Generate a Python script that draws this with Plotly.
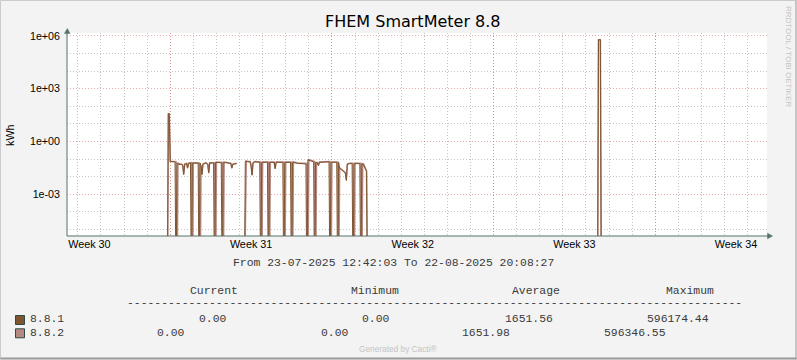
import plotly.graph_objects as go

# ---------------- data ----------------
title_text = "FHEM SmartMeter 8.8"
y_title = "kWh"
series_names = ["8.8.1", "8.8.2"]
series_colors = ["#7F5430", "#B48A82"]

x_start = "2025-07-23 12:42:03"
x_end = "2025-08-22 20:08:27"

week_label_times = ["2025-07-24 12:00", "2025-07-31 12:00", "2025-08-07 12:00",
                    "2025-08-14 12:00", "2025-08-21 12:00"]
week_labels = ["Week 30", "Week 31", "Week 32", "Week 33", "Week 34"]
week_start_times = ["2025-07-21", "2025-07-28", "2025-08-04", "2025-08-11", "2025-08-18"]

y_tick_vals = [1e-3, 1, 1e3, 1e6]
y_tick_labels = ["1e-03", "1e+00", "1e+03", "1e+06"]
y_minor_vals = [1e-5, 1e-4, 1e-2, 1e-1, 1e1, 1e2, 1e4, 1e5]

# series 8.8.1 (kWh), None = unknown
t_881 = ["2025-07-27 21:00", "2025-07-27 22:00", "2025-07-27 23:00", "2025-07-28 00:00",
         "2025-07-28 05:00", "2025-07-28 06:00", "2025-07-28 07:00", "2025-07-28 09:00",
         "2025-07-28 12:00", "2025-07-28 13:00", "2025-07-28 14:00", "2025-07-28 15:00",
         "2025-07-28 17:00", "2025-07-28 18:00", "2025-07-28 19:00", "2025-07-28 21:00",
         "2025-07-28 22:00", "2025-07-28 23:00", "2025-07-29 05:00", "2025-07-29 06:00",
         "2025-07-29 07:00", "2025-07-29 08:00", "2025-07-29 09:00", "2025-07-29 10:00",
         "2025-07-29 13:00", "2025-07-29 15:00", "2025-07-29 16:00", "2025-07-29 17:00",
         "2025-07-29 21:00", "2025-07-29 22:00", "2025-07-29 23:00", "2025-07-30 05:00",
         "2025-07-30 06:00", "2025-07-30 07:00", "2025-07-30 12:00", "2025-07-30 15:00",
         "2025-07-30 16:00", "2025-07-30 17:00", "2025-07-30 21:00", "2025-07-30 22:00",
         "2025-07-31 05:00", "2025-07-31 06:00", "2025-07-31 09:00", "2025-07-31 11:00",
         "2025-07-31 12:00", "2025-07-31 13:00", "2025-07-31 14:00", "2025-07-31 16:00",
         "2025-07-31 21:00", "2025-07-31 22:00", "2025-07-31 23:00", "2025-08-01 05:00",
         "2025-08-01 06:00", "2025-08-01 07:00", "2025-08-01 12:00", "2025-08-01 13:00",
         "2025-08-01 14:00", "2025-08-01 21:00", "2025-08-01 22:00", "2025-08-01 23:00",
         "2025-08-02 05:00", "2025-08-02 06:00", "2025-08-02 07:00", "2025-08-02 12:00",
         "2025-08-02 21:00", "2025-08-02 22:00", "2025-08-02 23:00", "2025-08-03 02:00",
         "2025-08-03 05:00", "2025-08-03 06:00", "2025-08-03 07:00", "2025-08-03 09:00",
         "2025-08-03 10:00", "2025-08-03 11:00", "2025-08-03 15:00", "2025-08-03 21:00",
         "2025-08-03 22:00", "2025-08-03 23:00", "2025-08-04 05:00", "2025-08-04 06:00",
         "2025-08-04 07:00", "2025-08-04 08:00", "2025-08-04 10:00", "2025-08-04 12:00",
         "2025-08-04 14:00", "2025-08-04 15:00", "2025-08-04 16:00", "2025-08-04 18:00",
         "2025-08-04 21:00", "2025-08-04 22:00", "2025-08-04 23:00", "2025-08-05 05:00",
         "2025-08-05 06:00", "2025-08-05 07:00", "2025-08-05 09:00", "2025-08-05 10:00",
         "2025-08-05 11:00", "2025-08-05 12:00", "2025-08-05 13:00", "2025-08-15 12:00",
         "2025-08-15 13:00", "2025-08-15 15:00", "2025-08-15 16:00", "2025-08-22 20:00"]
v_881 = [0, 39, 39, 0.072,
         0.07, 0, 0.06, 0.05,
         0.05, 0.04, 0.013, 0.05,
         0.055, 0.03, 0.055, 0.06,
         0, 0.06, 0.058, 0,
         0.06, 0.04, 0.013, 0.05,
         0.06, 0.05, 0.016, 0.06,
         0.06, 0, 0.065, 0.062,
         0, 0.065, 0.06, 0.055,
         0.03, 0.05, 0.055, None,
         0, 0.075, 0.07, 0.07,
         0.04, 0.012, 0.06, 0.07,
         0.065, 0, 0.065, 0.066,
         0, 0.065, 0.065, 0.028,
         0.065, 0.065, 0, 0.065,
         0.065, 0, 0.065, 0.058,
         0.053, 0, 0.09, 0.08,
         0.07, 0, 0.065, 0.06,
         0.042, 0.065, 0.068, 0.07,
         0, 0.066, 0.066, 0,
         0.065, 0.03, 0.025, 0.02,
         0.016, 0.006, 0.05, 0.055,
         0.055, 0, 0.055, 0.055,
         0, 0.055, 0.05, 0.035,
         0.025, 0.02, 0, 0,
         596174.44, 596174.44, 0, 0]

# series 8.8.2 (kWh)
t_882 = ["2025-07-27 21:00", "2025-07-27 22:00", "2025-07-27 23:00", "2025-07-28 00:00",
         "2025-07-28 06:00", "2025-07-28 07:00", "2025-07-28 08:00", "2025-07-28 09:00",
         "2025-07-28 12:00", "2025-07-28 13:00", "2025-07-28 14:00", "2025-07-28 15:00",
         "2025-07-28 17:00", "2025-07-28 18:00", "2025-07-28 19:00", "2025-07-28 22:00",
         "2025-07-28 23:00", "2025-07-29 00:00", "2025-07-29 06:00", "2025-07-29 07:00",
         "2025-07-29 08:00", "2025-07-29 09:00", "2025-07-29 10:00", "2025-07-29 13:00",
         "2025-07-29 15:00", "2025-07-29 16:00", "2025-07-29 17:00", "2025-07-29 22:00",
         "2025-07-29 23:00", "2025-07-30 00:00", "2025-07-30 06:00", "2025-07-30 07:00",
         "2025-07-30 08:00", "2025-07-30 12:00", "2025-07-30 15:00", "2025-07-30 16:00",
         "2025-07-30 17:00", "2025-07-30 21:00", "2025-07-30 22:00", "2025-07-31 05:00",
         "2025-07-31 06:00", "2025-07-31 07:00", "2025-07-31 09:00", "2025-07-31 11:00",
         "2025-07-31 12:00", "2025-07-31 13:00", "2025-07-31 14:00", "2025-07-31 16:00",
         "2025-07-31 22:00", "2025-07-31 23:00", "2025-08-01 00:00", "2025-08-01 06:00",
         "2025-08-01 07:00", "2025-08-01 08:00", "2025-08-01 12:00", "2025-08-01 13:00",
         "2025-08-01 14:00", "2025-08-01 22:00", "2025-08-01 23:00", "2025-08-02 00:00",
         "2025-08-02 06:00", "2025-08-02 07:00", "2025-08-02 08:00", "2025-08-02 12:00",
         "2025-08-02 22:00", "2025-08-02 23:00", "2025-08-03 00:00", "2025-08-03 02:00",
         "2025-08-03 06:00", "2025-08-03 07:00", "2025-08-03 08:00", "2025-08-03 09:00",
         "2025-08-03 10:00", "2025-08-03 11:00", "2025-08-03 15:00", "2025-08-03 22:00",
         "2025-08-03 23:00", "2025-08-04 00:00", "2025-08-04 06:00", "2025-08-04 07:00",
         "2025-08-04 08:00", "2025-08-04 10:00", "2025-08-04 12:00", "2025-08-04 14:00",
         "2025-08-04 15:00", "2025-08-04 16:00", "2025-08-04 18:00", "2025-08-04 22:00",
         "2025-08-04 23:00", "2025-08-05 00:00", "2025-08-05 06:00", "2025-08-05 07:00",
         "2025-08-05 08:00", "2025-08-05 09:00", "2025-08-05 10:00", "2025-08-05 11:00",
         "2025-08-05 12:00", "2025-08-05 13:00", "2025-08-15 12:00", "2025-08-15 13:00",
         "2025-08-15 15:00", "2025-08-15 16:00", "2025-08-22 20:00"]
v_882 = [0, 35, 35, 0.075,
         0.072, 0, 0.062, 0.055,
         0.052, 0.045, 0.015, 0.052,
         0.058, 0.033, 0.058, 0.062,
         0, 0.062, 0.06, 0,
         0.045, 0.015, 0.052, 0.062,
         0.052, 0.018, 0.062, 0.062,
         0, 0.068, 0.064, 0,
         0.068, 0.062, 0.058, 0.033,
         0.052, 0.058, None, 0,
         0.0001, 0.078, 0.072, 0.072,
         0.045, 0.013, 0.062, 0.072,
         0.068, 0, 0.068, 0.068,
         0, 0.068, 0.068, 0.03,
         0.068, 0.068, 0, 0.068,
         0.068, 0, 0.07, 0.06,
         0.056, 0, 0.095, 0.085,
         0.072, 0, 0.068, 0.062,
         0.045, 0.068, 0.07, 0.072,
         0, 0.068, 0.068, 0,
         0.032, 0.026, 0.021, 0.017,
         0.007, 0.052, 0.058, 0.058,
         0, 0.058, 0.058, 0,
         0.058, 0.052, 0.037, 0.027,
         0.021, 0, 0, 596346.55,
         596346.55, 0, 0]

stat_headers = ["Current", "Minimum", "Average", "Maximum"]
stat_current = [0.00, 0.00]
stat_minimum = [0.00, 0.00]
stat_average = [1651.56, 1651.98]
stat_maximum = [596174.44, 596346.55]

# ---------------- geometry helpers (pixel -> paper) ----------------
W, H = 797, 360
PL, PR, PT, PB = 67, 767, 33, 236


def px(x):
    return (x - PL) / (PR - PL)


def py(y):
    return (PB - y) / (PB - PT)


FLOOR = 1e-9  # zero cannot be shown on a log axis: drawn below the axis bottom


def on_log(vals):
    return [None if v is None else (v if v > 0 else FLOOR) for v in vals]


AXIS = "#557368"
GRID = "rgba(150,150,150,0.55)"
MGRID = "rgba(225,110,110,0.6)"
DOTS = "1px,2px"
SANS = "Liberation Sans, Arial, sans-serif"
MONO = "Liberation Mono, Courier New, monospace"
MONO_COLOR = "#3a3a3a"

fig = go.Figure()
fig.add_trace(go.Scatter(x=t_882, y=on_log(v_882), mode="lines", name=series_names[1],
                         line=dict(color=series_colors[1], width=1.5), connectgaps=False,
                         xaxis="x", yaxis="y"))
fig.add_trace(go.Scatter(x=t_881, y=on_log(v_881), mode="lines", name=series_names[0],
                         line=dict(color=series_colors[0], width=1.0), connectgaps=False,
                         xaxis="x2", yaxis="y"))

shapes = []
# outer frame
shapes.append(dict(type="line", xref="paper", yref="paper", x0=px(0.5), x1=px(796.5), y0=py(0.5), y1=py(0.5),
                   line=dict(color="#CBCBCB", width=1)))
shapes.append(dict(type="line", xref="paper", yref="paper", x0=px(0.5), x1=px(0.5), y0=py(0.5), y1=py(359.5),
                   line=dict(color="#CBCBCB", width=1)))
shapes.append(dict(type="line", xref="paper", yref="paper", x0=px(0.5), x1=px(796.5), y0=py(358.5), y1=py(358.5),
                   line=dict(color="#999999", width=2)))
shapes.append(dict(type="line", xref="paper", yref="paper", x0=px(796), x1=px(796), y0=py(0.5), y1=py(359.5),
                   line=dict(color="#999999", width=1)))
# axes with arrows
shapes.append(dict(type="line", xref="paper", yref="paper", x0=px(67), x1=px(67), y0=py(236), y1=py(33),
                   line=dict(color=AXIS, width=1)))
shapes.append(dict(type="line", xref="paper", yref="paper", x0=px(67), x1=px(768), y0=py(236), y1=py(236),
                   line=dict(color=AXIS, width=1)))
shapes.append(dict(type="path", xref="paper", yref="paper",
                   path=f"M {px(64.5)} {py(33.5)} L {px(67.3)} {py(28.5)} L {px(70)} {py(33.5)} Z",
                   fillcolor=AXIS, line=dict(color=AXIS, width=0.5)))
shapes.append(dict(type="path", xref="paper", yref="paper",
                   path=f"M {px(767.5)} {py(233.2)} L {px(772.5)} {py(236)} L {px(767.5)} {py(238.8)} Z",
                   fillcolor=AXIS, line=dict(color=AXIS, width=0.5)))
# legend swatches
for i, c in enumerate(series_colors):
    top = 315.5 + i * 13.3
    shapes.append(dict(type="rect", xref="paper", yref="paper", x0=px(15.5), x1=px(24.5),
                       y0=py(top), y1=py(top + 9), fillcolor=c, line=dict(color="#2C4D43", width=1)))

ann = []


def txt(s, x, y, size, family, color="#000000", xanchor="left", yanchor="middle", angle=0):
    ann.append(dict(text=s, x=px(x), y=py(y), xref="paper", yref="paper", showarrow=False,
                    xanchor=xanchor, yanchor=yanchor, textangle=angle, borderpad=0, borderwidth=0,
                    font=dict(size=size, family=family, color=color)))


txt(title_text, 412.5, 22, 16, "DejaVu Sans, sans-serif", xanchor="center")
txt(y_title, 10, 135, 10.8, SANS, xanchor="center", angle=-90)
txt("RRDTOOL / TOBI OETIKER", 788, 56, 8, SANS, color="#C4C4C4", xanchor="center", angle=90)
txt("Generated by Cacti®", 398, 349, 8.3, SANS, color="#C4C4C4", xanchor="center")

MS = 11.4
txt("From 23-07-2025 12:42:03 To 22-08-2025 20:08:27", 233, 263, MS, MONO, MONO_COLOR)
for h, xh in zip(stat_headers, [190, 350.7, 512.3, 665.7]):
    txt(h, xh, 291, MS, MONO, MONO_COLOR)
txt("-" * 90, 127.3, 303, MS, MONO, MONO_COLOR)
row_x = [[199.3, 362.3, 504.7, 646.7], [157.3, 320.7, 462.3, 604.0]]
for i, name in enumerate(series_names):
    yrow = 319.3 + i * 13.4
    txt(name, 29.7, yrow, MS, MONO, MONO_COLOR)
    vals = [stat_current[i], stat_minimum[i], stat_average[i], stat_maximum[i]]
    for v, xv in zip(vals, row_x[i]):
        txt(f"{v:.2f}", xv, yrow, MS, MONO, MONO_COLOR)

fig.update_layout(
    width=W, height=H, autosize=False,
    margin=dict(l=PL, r=W - PR, t=PT, b=H - PB, pad=0),
    paper_bgcolor="#F3F3F3", plot_bgcolor="#FFFFFF",
    showlegend=False,
    shapes=shapes, annotations=ann,
    xaxis=dict(type="date", range=[x_start, x_end], tickvals=week_start_times,
               showticklabels=False, ticks="", showgrid=True, gridcolor=MGRID, griddash=DOTS,
               gridwidth=1, zeroline=False, showline=False,
               minor=dict(dtick=86400000, tick0="2025-07-21", showgrid=True, gridcolor=GRID,
                          griddash=DOTS, gridwidth=1, ticks="")),
    xaxis2=dict(type="date", range=[x_start, x_end], overlaying="x", matches="x", anchor="y",
                side="bottom", tickvals=week_label_times, ticktext=week_labels, ticks="",
                showgrid=False, zeroline=False, showline=False,
                tickfont=dict(family=SANS, size=10.8, color="#000000")),
    yaxis=dict(type="log", range=[-5.368, 6.159], tickvals=y_tick_vals, ticktext=y_tick_labels,
               ticks="", showgrid=True, gridcolor=MGRID, griddash=DOTS, gridwidth=1,
               zeroline=False, showline=False, ticklabelstandoff=6,
               tickfont=dict(family=SANS, size=10.7, color="#000000"),
               minor=dict(tickvals=y_minor_vals, showgrid=True, gridcolor=GRID, griddash=DOTS,
                          gridwidth=1, ticks="")),
)

fig.write_html("out.html", config={"displayModeBar": False, "staticPlot": True},
               post_script="document.body.style.margin='0';document.body.style.overflow='hidden';")
